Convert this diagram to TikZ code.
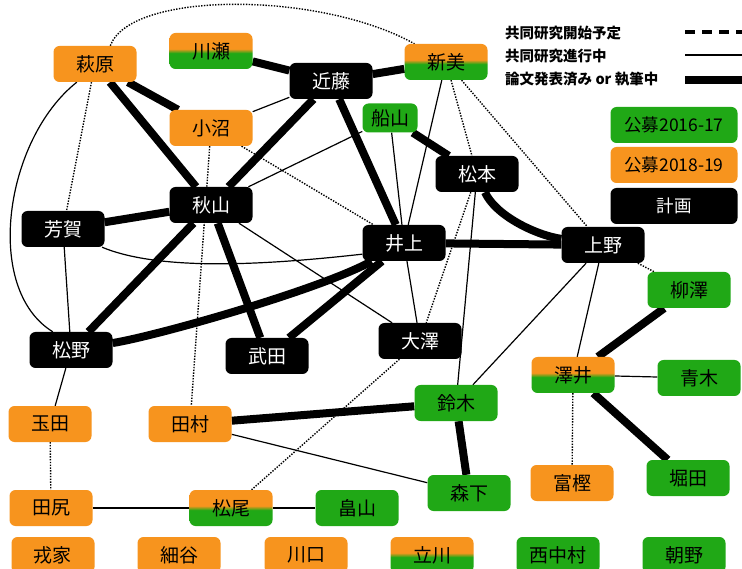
\documentclass[tikz,border=0pt]{standalone}
\usepackage{fontspec}
\setmainfont{Noto Sans CJK JP}
\usetikzlibrary{backgrounds}
\definecolor{myorange}{RGB}{247,148,30}
\definecolor{mygreen}{RGB}{32,168,22}
\pgfdeclareverticalshading{halfshade}{100bp}{color(0bp)=(mygreen); color(47bp)=(mygreen); color(53bp)=(myorange); color(100bp)=(myorange)}
\tikzset{
	member/.style={
			rectangle,
			rounded corners=6pt,
			minimum width=83pt,
			minimum height=36pt,
			inner sep=0pt,
			text=black,
			font=\fontsize{19}{19}\selectfont
		},
	plannode/.style={
			member,
			fill=black,
			text=white
		},
	oldnode/.style={
			member,
			fill=mygreen
		},
	newnode/.style={
			member,
			fill=myorange
		},
	bothnode/.style={
			member,
			shading=halfshade
		},
	keynode/.style={
			minimum width=127pt,
			font=\fontsize{17.5}{17.5}\selectfont
		},
	keytext/.style={
			anchor=west,
			inner sep=0pt,
			font=\bfseries\fontsize{14.5}{14.5}\selectfont
		},
	publine/.style={line width=8pt},
	runline/.style={line width=1.2pt},
	planline/.style={line width=1.4pt, dash pattern=on 1.4pt off 1.4pt},
	keyplanline/.style={line width=3.5pt, dash pattern=on 10pt off 7pt}
}

\begin{document}
\begin{tikzpicture}[x=1pt, y=-1pt]
\useasboundingbox (0,0) rectangle (742,569);

\node[newnode] (hagiwara) at (95,64) {萩原};
\node[bothnode] (kawase) at (211,51) {川瀬};
\node[plannode] (kondo) at (331,81) {近藤};
\node[bothnode] (niimi) at (446,62) {新美};
\node[newnode] (konuma) at (211,128) {小沼};
\node[oldnode, minimum width=55pt, minimum height=29pt] (funayama) at (390,118) {船山};
\node[plannode] (matsumoto) at (477,174) {松本};
\node[plannode] (akiyama) at (211,205) {秋山};
\node[plannode] (haga) at (63,229) {芳賀};
\node[plannode] (inoue) at (404,243) {井上};
\node[plannode] (ueno) at (603,245) {上野};
\node[oldnode] (yanagisawa) at (689,290) {柳澤};
\node[plannode] (matsuno) at (71,350) {松野};
\node[plannode] (takeda) at (267,356) {武田};
\node[plannode] (osawa) at (420,341) {大澤};
\node[bothnode] (sawai) at (573,375) {澤井};
\node[oldnode] (aoki) at (699,378) {青木};
\node[oldnode] (suzuki) at (456,403) {鈴木};
\node[newnode] (tamada) at (50,424) {玉田};
\node[newnode] (tamura) at (190,424) {田村};
\node[oldnode] (morishita) at (469,493) {森下};
\node[newnode] (togashi) at (572,483) {富樫};
\node[oldnode] (hotta) at (688,478) {堀田};
\node[newnode] (tajiri) at (51,508) {田尻};
\node[bothnode] (matsuo) at (231,508) {松尾};
\node[oldnode] (hatakeyama) at (357,508) {畠山};
\node[newnode] (ebisuya) at (53,555) {戎家};
\node[newnode] (hosoya) at (179,555) {細谷};
\node[newnode] (kawaguchi) at (306,555) {川口};
\node[bothnode] (tachikawa) at (432,555) {立川};
\node[oldnode] (nishinakamura) at (558,555) {西中村};
\node[oldnode] (asano) at (684,555) {朝野};

\node[keytext] (keyplan) at (505,33) {共同研究開始予定};
\node[keytext] (keyrun) at (505,56) {共同研究進行中};
\node[keytext] (keypub) at (505,79) {論文発表済み or 執筆中};
\coordinate (plana) at (685,32);
\coordinate (planb) at (742,32);
\coordinate (runa) at (685,55);
\coordinate (runb) at (742,55);
\coordinate (puba) at (685,80);
\coordinate (pubb) at (742,80);
\draw[keyplanline] (plana) -- (planb);
\draw[runline] (runa) -- (runb);
\draw[publine] (puba) -- (pubb);
\node[oldnode, keynode] (key1) at (674,125) {公募2016-17};
\node[newnode, keynode] (key2) at (674,165) {公募2018-19};
\node[plannode, keynode] (key3) at (674,206) {計画};

\begin{scope}[on background layer]
\fill[white] (0,0) rectangle (742,569);
\draw[publine] (hagiwara) -- (akiyama);
\draw[publine] (hagiwara) -- (konuma);
\draw[publine] (kawase) -- (kondo);
\draw[publine] (kondo) -- (niimi);
\draw[publine] (kondo) -- (akiyama);
\draw[publine] (kondo) -- (inoue);
\draw[publine] (funayama) -- (matsumoto);
\draw[publine] (matsumoto) .. controls +(18,41) and +(-68,-10) .. (ueno);
\draw[publine] (akiyama) -- (haga);
\draw[publine] (akiyama) -- (matsuno);
\draw[publine] (akiyama) -- (takeda);
\draw[publine] (inoue) .. controls +(-80,45) and +(90,-15) .. (matsuno);
\draw[publine] (inoue) -- (takeda);
\draw[publine] (inoue) -- (ueno);
\draw[publine] (yanagisawa) -- (sawai);
\draw[publine] (sawai) -- (hotta);
\draw[publine] (tamura) -- (suzuki);
\draw[publine] (suzuki) -- (morishita);

\draw[runline] (hagiwara.225) .. controls +(-72,57) and +(-70,-43) .. (matsuno.135);
\draw[runline] (haga.-25) .. controls +(60,25) and +(-90,10) .. (inoue.195);
\draw[runline] (konuma) -- (kondo);
\draw[runline] (funayama) -- (akiyama);
\draw[runline] (funayama) -- (inoue);
\draw[runline] (niimi) -- (inoue);
\draw[runline] (akiyama) -- (osawa);
\draw[runline] (haga) -- (matsuno);
\draw[runline] (inoue) -- (osawa);
\draw[runline] (matsumoto) -- (suzuki);
\draw[runline] (ueno) -- (suzuki);
\draw[runline] (ueno) -- (sawai);
\draw[runline] (sawai) -- (aoki);
\draw[runline] (matsuno) -- (tamada);
\draw[runline] (tamura) -- (morishita);
\draw[runline] (tajiri) -- (matsuo);
\draw[runline] (matsuo) -- (hatakeyama);

\draw[planline] (hagiwara.50) .. controls +(20,-55) and +(-95,-53) .. (niimi.150);
\draw[planline] (hagiwara) -- (haga);
\draw[planline] (konuma) -- (tamura);
\draw[planline] (konuma) -- (inoue);
\draw[planline] (niimi) -- (matsumoto);
\draw[planline] (matsumoto) -- (osawa);
\draw[planline] (osawa) -- (matsuo);
\draw[planline] (niimi) -- (ueno);
\draw[planline] (ueno) -- (yanagisawa);
\draw[planline] (sawai) -- (togashi);
\draw[planline] (tamada) -- (tajiri);
\end{scope}
\end{tikzpicture}
\end{document}
